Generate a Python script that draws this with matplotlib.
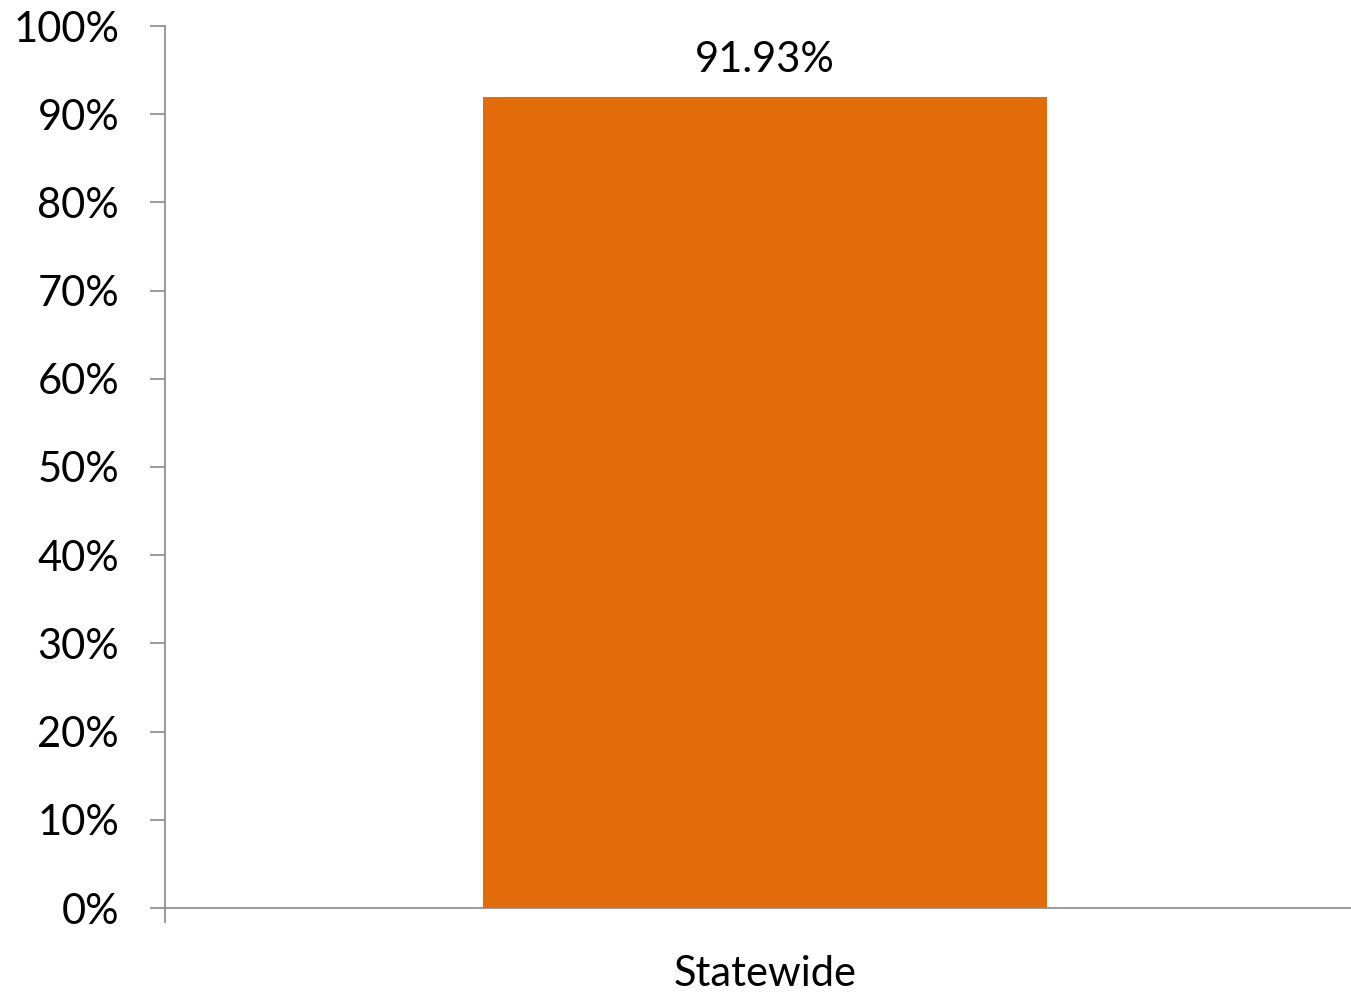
import matplotlib.pyplot as plt
from matplotlib.ticker import FuncFormatter

categories = ['Statewide']
values = [91.93]
labels = ['91.93%']

plt.rcParams['font.family'] = ['Lato', 'DejaVu Sans']

fig = plt.figure(figsize=(13.51, 9.93), dpi=100)
ax = fig.add_axes([165/1351, 85/993, 1186/1351, 882/993])

bars = ax.bar(range(len(categories)), values, width=0.476, color='#E36C0A')
for b, lab in zip(bars, labels):
    ax.text(b.get_x() + b.get_width()/2, b.get_height() + 2.1, lab,
            ha='center', va='bottom', fontsize=30, color='#000000')

ax.set_xlim(-0.506, 0.494)
ax.set_ylim(0, 100)
ax.set_yticks(range(0, 101, 10))
ax.yaxis.set_major_formatter(FuncFormatter(lambda v, p: '%d%%' % v))
ax.set_xticks(range(len(categories)))
ax.set_xticklabels(categories)
ax.set_xticks([-0.506], minor=True)

for s in ['top', 'right']:
    ax.spines[s].set_visible(False)
for s in ['left', 'bottom']:
    ax.spines[s].set_color('#898989')
    ax.spines[s].set_linewidth(1.2)

ax.tick_params(axis='y', which='major', length=11, width=1.2, color='#898989',
               labelsize=30, pad=22)
ax.tick_params(axis='x', which='major', length=0, labelsize=30, pad=34)
ax.tick_params(axis='x', which='minor', length=11, width=1.2, color='#898989')

fig.savefig('out.png', dpi=100)
